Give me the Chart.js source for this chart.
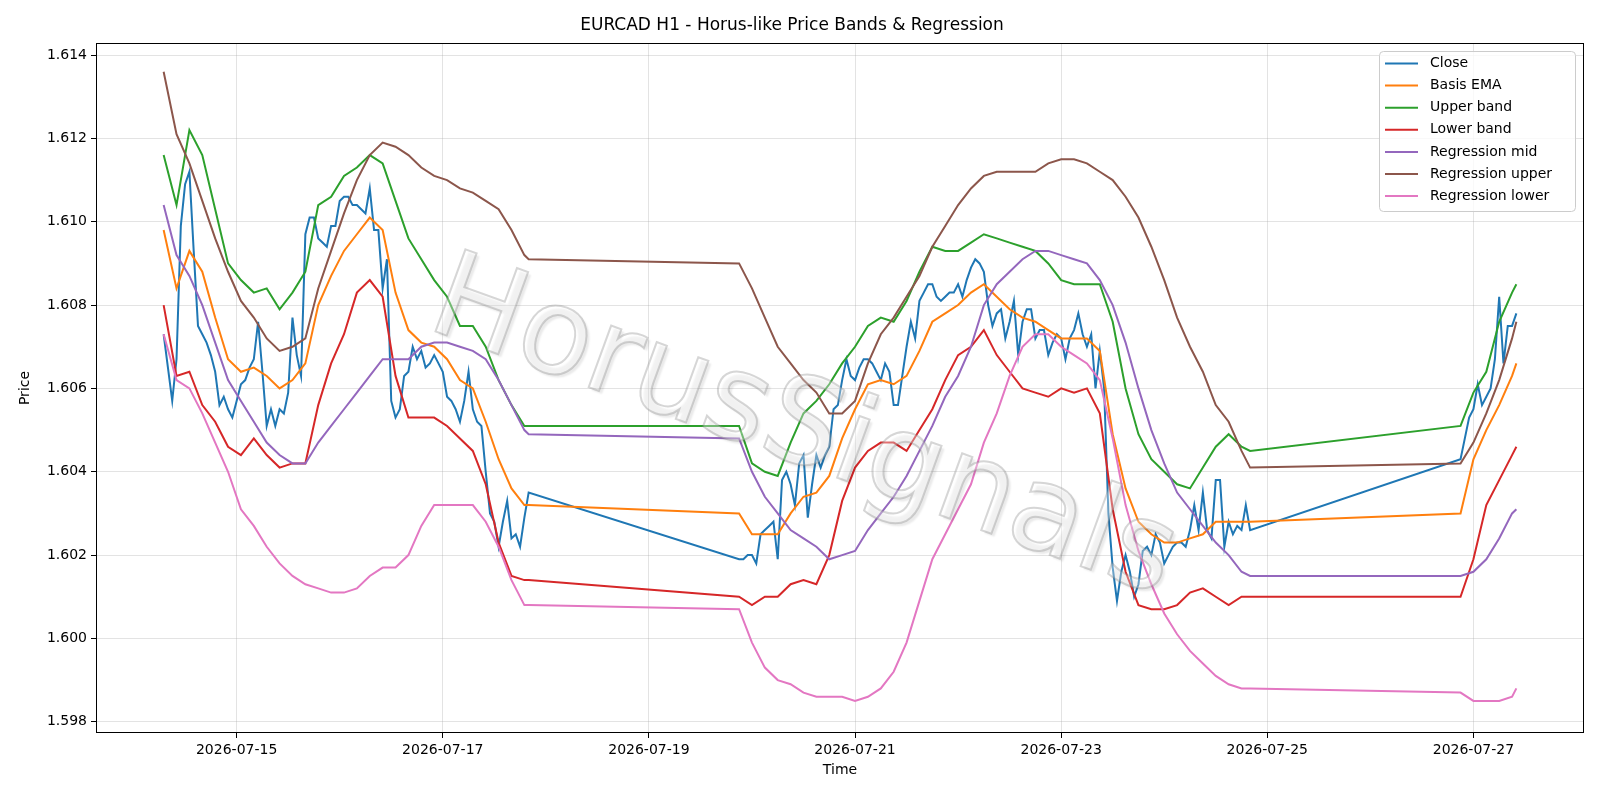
<!DOCTYPE html>
<html>
<head>
<meta charset="utf-8">
<script src="https://cdn.jsdelivr.net/npm/chart.js@4.4.1/dist/chart.umd.min.js"></script>
<style>
  html, body { margin: 0; padding: 0; background: #fff; }
  #wrap { width: 1600px; height: 800px; }
</style>
</head>
<body>
<div id="wrap"><canvas id="chart" width="1600" height="800"></canvas></div>
<script>
// x values are hours counted from 2026-07-14 00:00 (H1 bars, weekends closed)
var closeSegments = [[7, 92], [141, 260], [309, 322]];

var closeValues = [
  1.6073,1.6065,1.6057,1.6067,1.6099,1.6109,1.6112,1.6093,1.6075,1.6073,
  1.6071,1.6068,1.6064,1.6056,1.6058,1.6055,1.6053,1.6057,1.6061,1.6062,
  1.6065,1.6067,1.6076,1.6064,1.6051,1.6055,1.6051,1.6055,1.6054,1.6059,
  1.6077,1.6068,1.6063,1.6097,1.6101,1.6101,1.6096,1.6095,1.6094,1.6099,
  1.6099,1.6105,1.6106,1.6106,1.6104,1.6104,1.6103,1.6102,1.6108,1.6098,
  1.6098,1.6084,1.6091,1.6057,1.6053,1.6055,1.6063,1.6064,1.6070,1.6067,
  1.6069,1.6065,1.6066,1.6068,1.6066,1.6064,1.6058,1.6057,1.6055,1.6052,
  1.6057,1.6064,1.6055,1.6052,1.6051,1.6040,1.6030,1.6028,1.6022,1.6028,
  1.6033,1.6024,1.6025,1.6022,1.6029,1.6035,
  1.6019,1.6019,1.6020,1.6020,1.6018,1.6025,1.6026,1.6027,1.6028,1.6019,
  1.6038,1.6040,1.6037,1.6032,1.6042,1.6044,1.6029,1.6037,1.6044,1.6041,
  1.6044,1.6046,1.6055,1.6056,1.6062,1.6067,1.6063,1.6062,1.6065,1.6067,
  1.6067,1.6066,1.6064,1.6062,1.6066,1.6064,1.6056,1.6056,1.6063,1.6070,
  1.6076,1.6072,1.6081,1.6083,1.6085,1.6085,1.6082,1.6081,1.6082,1.6083,
  1.6083,1.6085,1.6082,1.6086,1.6089,1.6091,1.6090,1.6088,1.6080,1.6075,
  1.6078,1.6079,1.6072,1.6076,1.6081,1.6068,1.6076,1.6079,1.6079,1.6072,
  1.6074,1.6074,1.6068,1.6071,1.6073,1.6072,1.6067,1.6072,1.6074,1.6078,
  1.6073,1.6070,1.6073,1.6060,1.6069,1.6060,1.6030,1.6017,1.6009,1.6016,
  1.6020,1.6016,1.6010,1.6013,1.6021,1.6022,1.6020,1.6025,1.6023,1.6018,
  1.6020,1.6022,1.6023,1.6023,1.6022,1.6026,1.6032,1.6026,1.6035,1.6026,
  1.6024,1.6038,1.6038,1.6022,1.6028,1.6025,1.6027,1.6026,1.6032,1.6026,
  1.6043,1.6048,1.6053,1.6055,1.6061,1.6056,1.6058,1.6060,1.6067,1.6082,
  1.6066,1.6075,1.6075,1.6078
];

// the smoother lines are read every 3 hours
var bandHours = [
  7,10,13,16,19,22,25,28,31,34,37,40,43,46,49,52,55,58,61,64,67,70,73,76,79,82,85,88,91,92,
  141,144,147,150,153,156,159,162,165,168,171,174,177,180,183,186,189,192,195,198,
  201,204,207,210,213,216,219,222,225,228,231,234,237,240,243,246,249,252,255,258,260,
  309,312,315,318,321,322
];

var basisEma = [
  1.6098,1.6084,1.6093,1.6088,1.6077,1.6067,1.6064,1.6065,1.6063,1.6060,1.6062,1.6066,1.6080,1.6087,1.6093,
  1.6097,1.6101,1.6098,1.6083,1.6074,1.6071,1.6070,1.6067,1.6062,1.6060,1.6052,1.6043,1.6036,1.6032,1.6032,
  1.6030,1.6025,1.6025,1.6025,1.6030,1.6034,1.6035,1.6039,1.6048,1.6055,1.6061,1.6062,1.6061,1.6063,1.6069,
  1.6076,1.6078,1.6080,1.6083,1.6085,1.6082,1.6079,1.6077,1.6076,1.6074,1.6072,1.6072,1.6072,1.6069,1.6049,
  1.6036,1.6028,1.6025,1.6023,1.6023,1.6024,1.6025,1.6028,1.6028,1.6028,1.6028,
  1.6030,1.6043,1.6050,1.6056,1.6063,1.6066
];
var upperBand = [
  1.6116,1.6104,1.6122,1.6116,1.6103,1.6090,1.6086,1.6083,1.6084,1.6079,1.6083,1.6088,1.6104,1.6106,1.6111,
  1.6113,1.6116,1.6114,1.6105,1.6096,1.6091,1.6086,1.6082,1.6075,1.6075,1.6070,1.6062,1.6056,1.6051,1.6051,
  1.6051,1.6042,1.6040,1.6039,1.6047,1.6054,1.6057,1.6061,1.6066,1.6070,1.6075,1.6077,1.6076,1.6081,1.6088,
  1.6094,1.6093,1.6093,1.6095,1.6097,1.6096,1.6095,1.6094,1.6093,1.6090,1.6086,1.6085,1.6085,1.6085,1.6076,
  1.6060,1.6049,1.6043,1.6040,1.6037,1.6036,1.6041,1.6046,1.6049,1.6046,1.6045,
  1.6051,1.6059,1.6064,1.6076,1.6083,1.6085
];
var lowerBand = [
  1.6080,1.6063,1.6064,1.6056,1.6052,1.6046,1.6044,1.6048,1.6044,1.6041,1.6042,1.6042,1.6056,1.6066,1.6073,
  1.6083,1.6086,1.6082,1.6063,1.6053,1.6053,1.6053,1.6051,1.6048,1.6045,1.6037,1.6023,1.6015,1.6014,1.6014,
  1.6010,1.6008,1.6010,1.6010,1.6013,1.6014,1.6013,1.6020,1.6033,1.6041,1.6045,1.6047,1.6047,1.6045,1.6050,
  1.6055,1.6062,1.6068,1.6070,1.6074,1.6068,1.6064,1.6060,1.6059,1.6058,1.6060,1.6059,1.6060,1.6054,1.6031,
  1.6016,1.6008,1.6007,1.6007,1.6008,1.6011,1.6012,1.6010,1.6008,1.6010,1.6010,
  1.6010,1.6019,1.6032,1.6038,1.6044,1.6046
];
var regMid = [
  1.6104,1.6092,1.6087,1.6080,1.6071,1.6062,1.6057,1.6052,1.6047,1.6044,1.6042,1.6042,1.6047,1.6051,1.6055,
  1.6059,1.6063,1.6067,1.6067,1.6067,1.6070,1.6071,1.6071,1.6070,1.6069,1.6067,1.6062,1.6056,1.6050,1.6049,
  1.6048,1.6040,1.6034,1.6030,1.6026,1.6024,1.6022,1.6019,1.6020,1.6021,1.6026,1.6030,1.6034,1.6039,1.6045,
  1.6051,1.6058,1.6063,1.6070,1.6080,1.6085,1.6088,1.6091,1.6093,1.6093,1.6092,1.6091,1.6090,1.6086,1.6080,
  1.6071,1.6060,1.6050,1.6042,1.6035,1.6031,1.6027,1.6023,1.6020,1.6016,1.6015,
  1.6015,1.6016,1.6019,1.6024,1.6030,1.6031
];
var regUpper = [
  1.6136,1.6121,1.6114,1.6105,1.6096,1.6088,1.6081,1.6077,1.6072,1.6069,1.6070,1.6072,1.6084,1.6093,1.6102,
  1.6110,1.6116,1.6119,1.6118,1.6116,1.6113,1.6111,1.6110,1.6108,1.6107,1.6105,1.6103,1.6098,1.6092,1.6091,
  1.6090,1.6084,1.6077,1.6070,1.6066,1.6062,1.6059,1.6054,1.6054,1.6057,1.6066,1.6073,1.6077,1.6082,1.6087,
  1.6094,1.6099,1.6104,1.6108,1.6111,1.6112,1.6112,1.6112,1.6112,1.6114,1.6115,1.6115,1.6114,1.6112,1.6110,
  1.6106,1.6101,1.6094,1.6086,1.6077,1.6070,1.6064,1.6056,1.6052,1.6045,1.6041,
  1.6042,1.6047,1.6054,1.6062,1.6072,1.6076
];
var regLower = [
  1.6073,1.6062,1.6060,1.6054,1.6047,1.6040,1.6031,1.6027,1.6022,1.6018,1.6015,1.6013,1.6012,1.6011,1.6011,
  1.6012,1.6015,1.6017,1.6017,1.6020,1.6027,1.6032,1.6032,1.6032,1.6032,1.6028,1.6022,1.6014,1.6008,1.6008,
  1.6007,1.5999,1.5993,1.5990,1.5989,1.5987,1.5986,1.5986,1.5986,1.5985,1.5986,1.5988,1.5992,1.5999,1.6009,
  1.6019,1.6025,1.6031,1.6037,1.6047,1.6054,1.6063,1.6070,1.6073,1.6073,1.6070,1.6068,1.6066,1.6062,1.6048,
  1.6032,1.6021,1.6013,1.6006,1.6001,1.5997,1.5994,1.5991,1.5989,1.5988,1.5988,
  1.5987,1.5985,1.5985,1.5985,1.5986,1.5988
];

var xTickHours = [24, 72, 120, 168, 216, 264, 312];
var xTickLabels = ["2026-07-15", "2026-07-17", "2026-07-19", "2026-07-21", "2026-07-23", "2026-07-25", "2026-07-27"];
var yTicks = [1.598, 1.600, 1.602, 1.604, 1.606, 1.608, 1.610, 1.612, 1.614];

var closeHours = [];
closeSegments.forEach(function(seg) {
  for (var h = seg[0]; h <= seg[1]; h++) closeHours.push(h);
});

var series = [
  {label: "Close", color: "#1f77b4", hours: closeHours, values: closeValues},
  {label: "Basis EMA", color: "#ff7f0e", hours: bandHours, values: basisEma},
  {label: "Upper band", color: "#2ca02c", hours: bandHours, values: upperBand},
  {label: "Lower band", color: "#d62728", hours: bandHours, values: lowerBand},
  {label: "Regression mid", color: "#9467bd", hours: bandHours, values: regMid},
  {label: "Regression upper", color: "#8c564b", hours: bandHours, values: regUpper},
  {label: "Regression lower", color: "#e377c2", hours: bandHours, values: regLower}
];

var datasets = series.map(function(s, i) {
  return {
    label: s.label,
    data: s.values.map(function(v, j) { return {x: s.hours[j], y: v}; }),
    borderColor: s.color,
    backgroundColor: s.color,
    borderWidth: 2,
    pointRadius: 0,
    tension: 0,
    fill: false,
    order: series.length - i   // later series on top, like matplotlib
  };
});

var FONT = "DejaVu Sans";
Chart.defaults.font.family = FONT;

var watermark = {
  id: "watermark",
  afterDatasetsDraw: function(chart) {
    var ctx = chart.ctx;
    ctx.save();
    ctx.translate(803, 432);
    ctx.rotate(20 * Math.PI / 180);
    ctx.font = "120px " + FONT;
    ctx.textAlign = "center";
    ctx.textBaseline = "middle";
    ctx.globalAlpha = 0.35;
    ctx.shadowColor = "rgba(0,0,0,0.25)";
    ctx.shadowOffsetX = 3;
    ctx.shadowOffsetY = 3;
    ctx.shadowBlur = 2;
    ctx.fillStyle = "#ffffff";
    ctx.fillText("HorusSignals", 0, 0);
    ctx.shadowColor = "transparent";
    ctx.lineWidth = 2;
    ctx.strokeStyle = "#8a8a8a";
    ctx.strokeText("HorusSignals", 0, 0);
    ctx.restore();
  }
};

var frameAndLegend = {
  id: "frameAndLegend",
  afterDraw: function(chart) {
    var ctx = chart.ctx;
    var a = chart.chartArea;
    ctx.save();
    ctx.strokeStyle = "#000";
    ctx.lineWidth = 1;
    ctx.strokeRect(a.left + 0.5, a.top + 0.5, a.right - a.left - 1, a.bottom - a.top - 1);

    // legend box, upper right inside the axes
    var bx = 1379, by = 51, bw = 196, bh = 160, r = 4;
    ctx.globalAlpha = 0.8;
    ctx.fillStyle = "#fff";
    ctx.beginPath();
    ctx.roundRect(bx + 0.5, by + 0.5, bw, bh, r);
    ctx.fill();
    ctx.globalAlpha = 1;
    ctx.strokeStyle = "#cccccc";
    ctx.stroke();
    ctx.font = "14px " + FONT;
    ctx.textBaseline = "middle";
    ctx.fillStyle = "#000";
    series.forEach(function(s, i) {
      var y = 63.5 + i * 22.1;
      ctx.strokeStyle = s.color;
      ctx.lineWidth = 2;
      ctx.beginPath();
      ctx.moveTo(1385, y);
      ctx.lineTo(1418, y);
      ctx.stroke();
      ctx.fillText(s.label, 1430, y);
    });
    ctx.restore();
  }
};

var gridColor = "rgba(176,176,176,0.35)";
var tickFont = {family: FONT, size: 14};

new Chart(document.getElementById("chart").getContext("2d"), {
  type: "line",
  data: {datasets: datasets},
  plugins: [watermark, frameAndLegend],
  options: {
    responsive: false,
    animation: false,
    devicePixelRatio: 1,
    layout: {padding: {left: 0, right: 16, top: 0, bottom: 0}},
    plugins: {
      legend: {display: false},
      tooltip: {enabled: false},
      title: {
        display: true,
        text: "EURCAD H1 - Horus-like Price Bands & Regression",
        color: "#000",
        font: {family: FONT, size: 17, weight: "normal"},
        padding: {top: 15, bottom: 7.6}
      }
    },
    scales: {
      x: {
        type: "linear",
        min: -8.75,
        max: 337.75,
        afterBuildTicks: function(scale) {
          scale.ticks = xTickHours.map(function(h) { return {value: h}; });
        },
        afterFit: function(scale) { scale.height = 67; },
        ticks: {
          callback: function(v, i) { return xTickLabels[i]; },
          color: "#000", font: tickFont, padding: 4, maxRotation: 0, autoSkip: false
        },
        grid: {color: gridColor, lineWidth: 1, tickColor: "#000", tickLength: 5, tickWidth: 1},
        border: {display: false},
        title: {display: true, text: "Time", color: "#000", font: tickFont, padding: {top: 0, bottom: 21.4}}
      },
      y: {
        type: "linear",
        min: 1.59773,
        max: 1.61429,
        afterBuildTicks: function(scale) {
          scale.ticks = yTicks.map(function(v) { return {value: v}; });
        },
        afterFit: function(scale) { scale.width = 96; },
        ticks: {
          callback: function(v) { return v.toFixed(3); },
          color: "#000", font: tickFont, padding: 4
        },
        grid: {color: gridColor, lineWidth: 1, tickColor: "#000", tickLength: 5, tickWidth: 1},
        border: {display: false},
        title: {display: true, text: "Price", color: "#000", font: tickFont, padding: {top: 17, bottom: 0}}
      }
    }
  }
});
</script>
</body>
</html>
